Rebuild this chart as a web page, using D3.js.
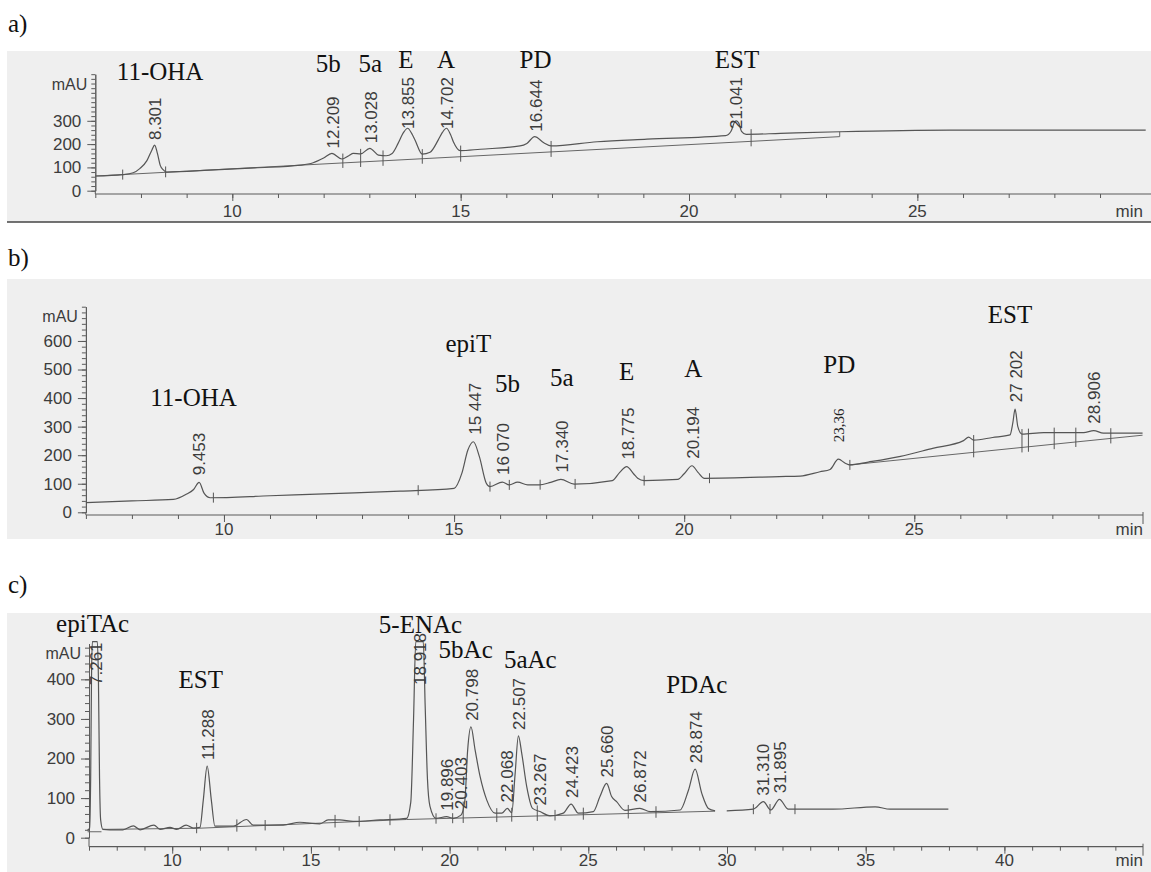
<!DOCTYPE html>
<html>
<head>
<meta charset="utf-8">
<script src="https://cdn.jsdelivr.net/npm/d3@7/dist/d3.min.js"></script>
<style>
body { margin: 0; background: #fff; }
svg { display: block; }
</style>
</head>
<body>
<svg id="chart" width="1151" height="872"></svg>
<script>
// ---- panel a : [time (min), signal (mAU)] ----
var traceA = [[7.0,63],[7.6,69],[7.83,77],[7.98,96],[8.13,129],[8.24,175],[8.3,196],[8.36,160],[8.42,110],[8.49,89],[8.56,80],
  [9.5,88],[10.5,98],[11.5,110],[11.77,120],[12.0,140],[12.18,160],[12.4,136],[12.55,150],[12.65,160],[12.81,158],[13.01,182],
  [13.2,153],[13.37,150],[13.5,160],[13.63,203],[13.75,250],[13.84,268],[13.93,245],[14.0,218],[14.16,157],[14.33,165],
  [14.51,218],[14.6,250],[14.69,268],[14.78,240],[14.84,210],[14.99,172],[15.43,178],[16.3,192],[16.45,203],[16.62,232],
  [16.82,206],[16.98,192],[17.99,210],[19.08,221],[20.8,236],[20.92,255],[21.0,295],[21.04,300],[21.09,290],[21.15,255],
  [21.25,242],[22.0,246],[23.3,253],[25.7,260],[30.0,260]];
var baseA = [[7.0,63],[23.3,232],[23.3,253]];
var marksA = [7.6, 8.54, 12.42, 12.81, 13.3, 14.16, 15.0, 16.98, 21.36];
var peaksA = [["8.301",8.301,196],["12.209",12.209,160],["13.028",13.028,182],["13.855",13.855,268],
  ["14.702",14.702,268],["16.644",16.644,232],["21.041",21.041,300]];
var namesA = [["11-OHA",8.42,475],["5b",12.1,509],["5a",13.02,509],["E",13.8,527],["A",14.68,527],["PD",16.64,527],["EST",21.05,527]];
var yTicksA = [0,100,200,300];

// ---- panel b ----
var traceB = [[7.0,34],[8.0,40],[8.9,45],[9.19,64],[9.34,80],[9.46,105],[9.57,66],[9.7,51],[11.0,58],[12.5,66],[13.83,74],
  [15.0,84],[15.17,137],[15.3,218],[15.42,247],[15.55,195],[15.7,102],[15.78,90],[16.05,106],[16.2,96],[16.38,106],[16.6,96],
  [16.85,96],[17.1,105],[17.32,115],[17.61,99],[18.44,111],[18.6,140],[18.75,160],[18.9,135],[18.99,119],[19.13,111],
  [19.86,115],[20.0,135],[20.17,163],[20.3,140],[20.44,119],[22.07,125],[22.52,127],[22.95,142],[23.17,150],[23.35,186],
  [23.5,172],[23.6,166],[24.0,176],[24.7,196],[25.4,224],[26.07,251],[26.18,263],[26.29,253],[26.7,262],[27.08,271],
  [27.14,312],[27.19,361],[27.25,300],[27.34,274],[27.81,279],[28.68,279],[28.9,286],[29.11,277],[29.96,277]];
var baseB = [[23.6,166],[29.96,270]];
var marksB = [9.77, 14.22, 15.78, 16.2, 16.87, 17.63, 19.13, 20.55, 23.6, 26.29, 27.34, 27.48, 28.04, 28.51, 29.27];
var peaksB = [["9.453",9.453,105],["15 447",15.447,247],["16 070",16.07,106],["17.340",17.34,115],["18.775",18.775,160],
  ["20.194",20.194,163],["23,36",23.36,186],["27 202",27.202,361],["28.906",28.906,286]];
var namesB = [["11-OHA",9.34,372],["epiT",15.31,562],["5b",16.16,422],["5a",17.34,442],["E",18.75,463],["A",20.2,473],
  ["PD",23.37,489],["EST",27.08,662]];
var yTicksB = [0,100,200,300,400,500,600];

// ---- panel c ----
var traceC = [[6.94,19],[7.02,24],[7.06,150],[7.09,400],[7.12,495],[7.3,495],[7.34,400],[7.38,150],[7.42,45],[7.5,21],
  [7.74,20],[8.22,20],[8.6,30],[8.84,20],[9.34,32],[9.56,21],[9.92,26],[10.16,21],[10.5,32],[10.76,24],[11.0,26],[11.12,95],
  [11.26,181],[11.41,95],[11.54,29],[12.2,29],[12.68,46],[12.92,32],[14.0,32],[14.6,39],[15.32,35],[15.62,45],[16.04,45],
  [16.52,41],[17.49,45],[18.45,49],[18.6,90],[18.7,300],[18.78,495],[19.05,495],[19.12,330],[19.2,150],[19.29,80],[19.51,49],
  [19.89,53],[20.13,49],[20.41,57],[20.55,95],[20.65,221],[20.77,280],[20.92,221],[21.1,154],[21.34,95],[21.64,62],[21.88,62],
  [22.08,74],[22.24,63],[22.36,160],[22.48,257],[22.6,213],[22.78,129],[22.99,74],[23.26,66],[23.62,55],[24.1,62],[24.38,85],
  [24.64,62],[25.18,66],[25.42,104],[25.66,137],[25.84,104],[26.02,91],[26.32,69],[26.86,74],[27.23,66],[28.31,70],[28.61,120],
  [28.85,173],[29.09,112],[29.33,74],[29.57,68],[29.8,null],[29.99,68],[30.95,72],[31.31,91],[31.58,70],[31.89,97],[32.21,72],
  [33.83,72],[35.34,78],[35.88,72],[37.98,72]];
var baseC = [[6.95,15],[7.45,15],[7.47,null],[7.5,21],[11.0,24],[18.45,46],[29.57,67]];
var marksC = [10.88, 12.33, 13.35, 15.87, 16.74, 17.85, 19.51, 20.11, 20.49, 21.7, 22.24, 23.16, 23.8, 24.82, 26.44, 27.44,
  30.95, 31.55, 32.45];
var peaksC = [["7.261",7.261,495],["11.288",11.288,181],["18.918",18.918,495],["19.896",19.896,53],["20.403",20.403,57],
  ["20.798",20.798,280],["22.068",22.068,74],["22.507",22.507,257],["23.267",23.267,66],["24.423",24.423,85],
  ["25.660",25.66,137],["26.872",26.872,74],["28.874",28.874,173],["31.310",31.31,91],["31.895",31.895,97]];
var namesC = [["epiTAc",7.13,519],["EST",11.03,377],["5-ENAc",18.95,516],["5bAc",20.58,453],["5aAc",22.91,428],["PDAc",28.91,365]];
var yTicksC = [0,100,200,300,400];

var svg = d3.select("#chart");
var sans = "'Liberation Sans', Arial, sans-serif";
var serif = "'Liberation Serif', 'Times New Roman', serif";
var ink = "#5a5a5a";

var panels = [
  { tag: "a)", tagY: 32, top: 51, bottom: 222, darkEdge: true, endTick: false,
    x: d3.scaleLinear().domain([7, 30]).range([95.3, 1145.7]),
    y: d3.scaleLinear().domain([0, 500]).range([190.7, 74.2]),
    axisY: 194, axisEnd: 1151, labelY: 217,
    trace: traceA, base: baseA, marks: marksA, peaks: peaksA, names: namesA, yTicks: yTicksA,
    gap: 5, minBottom: 129 },
  { tag: "b)", tagY: 266, top: 279, bottom: 539, endTick: true,
    x: d3.scaleLinear().domain([7, 30]).range([85.9, 1144.4]),
    y: d3.scaleLinear().domain([0, 720]).range([512.3, 306.7]),
    axisY: 515, axisEnd: 1143, labelY: 535,
    trace: traceB, base: baseB, marks: marksB, peaks: peaksB, names: namesB, yTicks: yTicksB,
    gap: 7, minBottom: 0 },
  { tag: "c)", tagY: 593, top: 613, bottom: 872, endTick: true,
    x: d3.scaleLinear().domain([7, 45]).range([89, 1143.1]),
    y: d3.scaleLinear().domain([0, 490]).range([837.7, 643.7]),
    axisY: 846.7, axisEnd: 1143, labelY: 866,
    trace: traceC, base: baseC, marks: marksC, peaks: peaksC, names: namesC, yTicks: yTicksC,
    gap: 6, minBottom: 685 }
];

// signal value at time t from a trace (for placing integration marks)
function valueAt(arr, t) {
  var pts = arr.filter(function (d) { return d[1] != null; });
  if (t <= pts[0][0] || t > pts[pts.length - 1][0]) return null;
  for (var i = 1; i < pts.length; i++) {
    if (pts[i][0] >= t) {
      var a = pts[i - 1], b = pts[i];
      var k = (t - a[0]) / (b[0] - a[0] || 1);
      return a[1] + k * (b[1] - a[1]);
    }
  }
  return null;
}

panels.forEach(function (p) {
  var g = svg.append("g");
  var x = p.x, y = p.y;
  var x0 = x.range()[0];

  g.append("rect")
    .attr("x", 7).attr("y", p.top)
    .attr("width", 1144).attr("height", p.bottom - p.top)
    .attr("fill", "#efefef");
  if (p.darkEdge) {
    g.append("line")
      .attr("x1", 7).attr("x2", 1151)
      .attr("y1", p.bottom).attr("y2", p.bottom)
      .attr("stroke", "#444").attr("stroke-width", 1.5);
  }

  svg.append("text")
    .attr("x", 8).attr("y", p.tagY)
    .style("font-family", serif).style("font-size", "25px")
    .attr("fill", "#111")
    .text(p.tag);

  // x axis: minor ticks every minute, major every 5 (the last 5 is left to "min")
  var d0 = x.domain()[0], d1 = x.domain()[1];
  var majors = d3.range(10, d1 - 0.5, 5);
  var xMinor = g.append("g").attr("transform", "translate(0," + p.axisY + ")")
    .call(d3.axisBottom(x).tickValues(d3.range(Math.ceil(d0), d1 - 0.5, 1)).tickSize(4).tickFormat(""));
  var xMajor = g.append("g").attr("transform", "translate(0," + p.axisY + ")")
    .call(d3.axisBottom(x).tickValues(majors).tickSize(7).tickFormat(""));
  [xMinor, xMajor].forEach(function (ax) {
    ax.select(".domain").remove();
    ax.selectAll("line").attr("stroke", ink);
  });
  g.append("line")
    .attr("x1", x0).attr("x2", p.axisEnd)
    .attr("y1", p.axisY).attr("y2", p.axisY)
    .attr("stroke", ink).attr("stroke-width", 1.2);
  if (p.endTick) {
    g.append("line")
      .attr("x1", p.axisEnd).attr("x2", p.axisEnd)
      .attr("y1", p.axisY - 3).attr("y2", p.axisY + 9)
      .attr("stroke", ink);
  }
  g.selectAll(".xlab").data(majors).enter()
    .append("text").attr("class", "xlab")
    .attr("x", function (d) { return x(d); })
    .attr("y", p.labelY)
    .attr("text-anchor", "middle")
    .style("font-family", sans).style("font-size", "17px")
    .attr("fill", "#3c3c3c")
    .text(function (d) { return d; });
  g.append("text")
    .attr("x", 1143).attr("y", p.labelY)
    .attr("text-anchor", "end")
    .style("font-family", sans).style("font-size", "17px")
    .attr("fill", "#3c3c3c")
    .text("min");

  // y axis
  var ymax = y.domain()[1];
  var yMinor = g.append("g").attr("transform", "translate(" + x0 + ",0)")
    .call(d3.axisLeft(y).tickValues(d3.range(0, ymax + 0.1, 20)).tickSize(4).tickSizeOuter(0).tickFormat(""));
  var yMajor = g.append("g").attr("transform", "translate(" + x0 + ",0)")
    .call(d3.axisLeft(y).tickValues(p.yTicks).tickSize(8).tickSizeOuter(0).tickPadding(6));
  [yMinor, yMajor].forEach(function (ax) {
    ax.select(".domain").attr("stroke", ink);
    ax.selectAll("line").attr("stroke", ink);
    ax.selectAll("text")
      .style("font-family", sans).style("font-size", "17px")
      .attr("fill", "#3c3c3c");
  });
  g.append("line")
    .attr("x1", x0).attr("x2", x0)
    .attr("y1", y(0)).attr("y2", p.axisY)
    .attr("stroke", ink);
  g.append("text")
    .attr("x", x0 - 8).attr("y", y(ymax) + 10)
    .attr("dy", "0.35em")
    .attr("text-anchor", "end")
    .style("font-family", sans).style("font-size", "16px")
    .attr("fill", "#3c3c3c")
    .text("mAU");

  // integration baseline and signal
  var line = d3.line()
    .defined(function (d) { return d[1] != null; })
    .x(function (d) { return x(d[0]); })
    .y(function (d) { return y(d[1]); });
  g.append("path")
    .datum(p.base)
    .attr("d", line)
    .attr("fill", "none").attr("stroke", "#666").attr("stroke-width", 1);
  g.append("path")
    .datum(p.trace)
    .attr("d", line.curve(d3.curveMonotoneX))
    .attr("fill", "none").attr("stroke", "#555").attr("stroke-width", 1.2);

  // peak boundary marks
  g.selectAll(".mark").data(p.marks).enter()
    .append("line").attr("class", "mark")
    .each(function (t) {
      var s = valueAt(p.trace, t), b = valueAt(p.base, t);
      var ys = [y(s)];
      if (b != null) ys.push(y(b));
      d3.select(this)
        .attr("x1", x(t)).attr("x2", x(t))
        .attr("y1", d3.min(ys) - 5).attr("y2", d3.max(ys) + 5);
    })
    .attr("stroke", "#555").attr("stroke-width", 1);

  // retention time labels
  g.selectAll(".rt").data(p.peaks).enter()
    .append("text").attr("class", "rt")
    .each(function (d) {
      var hand = d[0].indexOf(",") >= 0;
      var bottom = Math.max(y(d[2]) - (hand ? 17 : p.gap), p.minBottom);
      d3.select(this)
        .attr("transform", "translate(" + x(d[1]) + "," + bottom + ") rotate(-90)")
        .attr("dy", "0.35em")
        .style("font-family", hand ? serif : sans)
        .style("font-size", hand ? "15px" : "17px")
        .attr("fill", hand ? "#222" : "#3c3c3c");
    })
    .text(function (d) { return d[0]; });

  // compound names
  g.selectAll(".name").data(p.names).enter()
    .append("text").attr("class", "name")
    .attr("x", function (d) { return x(d[1]); })
    .attr("y", function (d) { return y(d[2]); })
    .attr("text-anchor", "middle")
    .style("font-family", serif).style("font-size", "25px")
    .attr("fill", "#111")
    .text(function (d) { return d[0]; });
});
</script>
</body>
</html>
